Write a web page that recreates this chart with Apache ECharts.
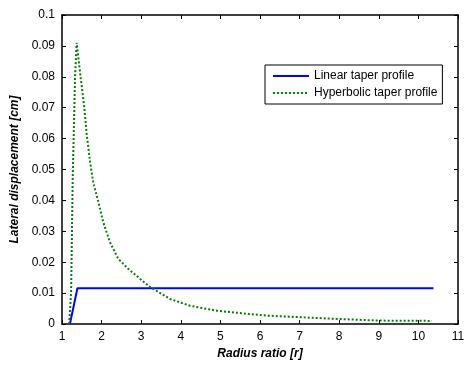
<!DOCTYPE html>
<html><head><meta charset="utf-8">
<script src="https://cdn.jsdelivr.net/npm/echarts@6/dist/echarts.min.js"></script>
<style>html,body{margin:0;padding:0;background:#fff}#c{width:474px;height:365px}</style>
</head><body><div id="c"></div>
<script>
const xTicks = [1,2,3,4,5,6,7,8,9,10,11];
const yTicks = [0,0.01,0.02,0.03,0.04,0.05,0.06,0.07,0.08,0.09,0.1];
const linearR = [1.20, 1.39, 10.38];
const linearV = [0, 0.0116, 0.0116];
const hypR = [1.18, 1.23, 1.27, 1.33, 1.37, 1.47, 1.56, 1.62, 1.71, 1.79, 1.92, 2.04, 2.21, 2.42, 2.67, 3.01, 3.22, 3.73, 4.23, 4.91, 5.75, 6.2, 7.01, 8.02, 9.03, 10.34];
const hypV = [0, 0.01, 0.047, 0.08, 0.091, 0.08, 0.0704, 0.0619, 0.0523, 0.0458, 0.0394, 0.033, 0.0265, 0.0211, 0.0179, 0.0142, 0.012, 0.0081, 0.0059, 0.0043, 0.0032, 0.0027, 0.0022, 0.0016, 0.0011, 0.001];
const seriesNames = ['Linear taper profile', 'Hyperbolic taper profile'];

const font = 'Liberation Sans, Arial, sans-serif';
const chart = echarts.init(document.getElementById('c'));
const axisCommon = {
  axisLine: {show: true, onZero: false, lineStyle: {color: '#000', width: 1.5}},
  axisTick: {show: true, inside: true, length: 4, lineStyle: {color: '#000'}},
  splitLine: {show: false}
};
chart.setOption({
  animation: false,
  grid: {left: 62, right: 16, top: 15, bottom: 39},
  legend: {
    orient: 'vertical', left: 265, top: 65,
    backgroundColor: '#fff', borderColor: '#000', borderWidth: 1,
    padding: [5, 5, 5, 7], itemGap: 5, itemWidth: 36, itemHeight: 10,
    itemStyle: {opacity: 0},
    textStyle: {fontFamily: font, fontSize: 12, color: '#000'},
    data: seriesNames
  },
  xAxis: [
    Object.assign({type: 'value', min: 1, max: 11, interval: 1, position: 'bottom',
      name: 'Radius ratio [r]', nameLocation: 'middle', nameGap: 24,
      nameTextStyle: {fontFamily: font, fontSize: 12, fontWeight: 'bold', fontStyle: 'italic', color: '#000'},
      axisLabel: {fontFamily: font, fontSize: 12, color: '#000', margin: 7}}, axisCommon),
    Object.assign({type: 'value', min: 1, max: 11, interval: 1, position: 'top',
      axisLabel: {show: false}}, axisCommon)
  ],
  yAxis: [
    Object.assign({type: 'value', min: 0, max: 0.1, interval: 0.01, position: 'left',
      name: 'Lateral displacement [cm]', nameLocation: 'middle', nameGap: 37,
      nameTextStyle: {fontFamily: font, fontSize: 12, fontWeight: 'bold', fontStyle: 'italic', color: '#000'},
      axisLabel: {fontFamily: font, fontSize: 12, color: '#000', margin: 7}}, axisCommon),
    Object.assign({type: 'value', min: 0, max: 0.1, interval: 0.01, position: 'right',
      axisLabel: {show: false}}, axisCommon)
  ],
  series: [
    {name: seriesNames[0], type: 'line', showSymbol: false, symbol: 'none',
     data: linearR.map((r, i) => [r, linearV[i]]),
     lineStyle: {color: '#0000ff', width: 2}, itemStyle: {color: '#0000ff'}},
    {name: seriesNames[1], type: 'line', showSymbol: false, symbol: 'none',
     data: hypR.map((r, i) => [r, hypV[i]]),
     lineStyle: {color: '#008000', width: 2, type: [2, 2]}, itemStyle: {color: '#008000'}}
  ]
});
</script></body></html>
